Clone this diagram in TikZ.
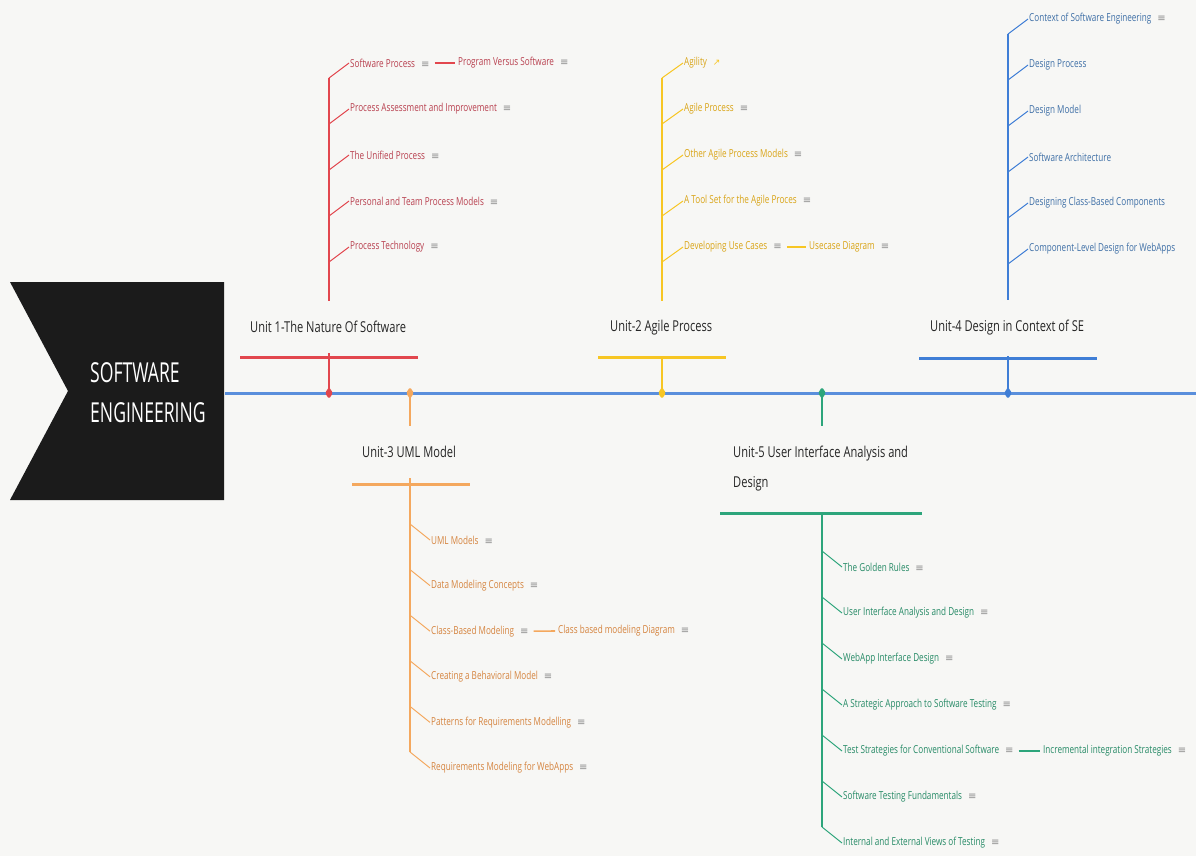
\documentclass[tikz,border=0pt]{standalone}
\usepackage{fontspec}
\setmainfont{Open Sans}[FakeStretch=0.74]
\newfontfamily\headfont{Open Sans}[FakeStretch=0.64]
\newfontfamily\symfont{DejaVu Sans}
\usetikzlibrary{shapes.geometric}
\definecolor{bgc}{HTML}{F7F7F5}
\definecolor{spinec}{HTML}{5A8FDC}
\definecolor{redline}{HTML}{E2474E}
\definecolor{redtext}{HTML}{B8404F}
\definecolor{yelline}{HTML}{F7C623}
\definecolor{yeltext}{HTML}{D9A416}
\definecolor{bluline}{HTML}{3F7ED6}
\definecolor{blutext}{HTML}{3E6FA6}
\definecolor{oraline}{HTML}{F4A85E}
\definecolor{oratext}{HTML}{D5843F}
\definecolor{greline}{HTML}{2DA57B}
\definecolor{gretext}{HTML}{268A66}
\definecolor{ttlc}{HTML}{262626}
\definecolor{headc}{HTML}{1B1B1B}
\definecolor{icc}{HTML}{8C8C8C}
\newcommand{\noteic}{\hspace{6pt}{\symfont\fontsize{10}{10}\selectfont\textcolor{icc}{≡}}}
\newcommand{\linkic}{\hspace{6pt}{\symfont\fontsize{9}{9}\selectfont\textcolor{yelline}{↗}}}
\begin{document}
\begin{tikzpicture}[x=1pt,y=-1pt,
  leaf/.style={anchor=west, inner sep=1pt, font=\fontsize{11}{12}\selectfont, text=#1},
  unittitle/.style={anchor=west, inner xsep=5pt, inner ysep=20pt, fill=bgc, font=\fontsize{15}{30}\selectfont, text=ttlc, align=left},
  barline/.style={line width=3pt, draw=#1},
  stem/.style={line width=1.5pt, draw=#1},
  twig/.style={line width=1pt, draw=#1},
  subline/.style={line width=1.6pt, draw=#1, shorten <=4pt, shorten >=2pt},
  dot/.style={diamond, inner sep=0pt, minimum width=8pt, minimum height=12pt, rounded corners=1.5pt, fill=#1}]
\useasboundingbox[fill=bgc] (0,0) rectangle (1196,856);

% head
\fill[headc] (10,282) -- (224,282) -- (224,500) -- (10,500) -- (68,391) -- cycle;
\node[anchor=west, align=left, text=white, inner sep=0pt, font=\headfont\fontsize{27.5}{40}\selectfont] (head) at (90,393) {SOFTWARE\\ENGINEERING};
\coordinate (headr) at (225,393);
\coordinate (spineend) at (1196,393);
\draw[line width=3pt, draw=spinec] (headr) -- (spineend);

% anchor points on spine
\coordinate (p1) at (329,393);
\coordinate (p2) at (662,393);
\coordinate (p3) at (410,393);
\coordinate (p4) at (1008,393);
\coordinate (p5) at (822,393);

% ---------- Unit 1 ----------
\coordinate (b1) at (329,357);
\coordinate (t1) at (329,78);
\draw[stem=redline] (p1) -- (b1) -- (t1);
\node[unittitle] (h1) at (245,327) {Unit 1-The Nature Of Software};
\draw[barline=redline] (240,357) -- (418,357);
\foreach \t [count=\i] in {Software Process\noteic, Process Assessment and Improvement\noteic, The Unified Process\noteic, Personal and Team Process Models\noteic, Process Technology\noteic}{
  \node[leaf=redtext] (u1c\i) at (349,{63+46*(\i-1)}) {\t};
  \draw[twig=redline] (329,{63+46*(\i-1)+15}) -- (u1c\i.west);
}
\node[leaf=redtext] (u1s1) at (457,63) {Program Versus Software\noteic};
\draw[subline=redline] (u1c1.east) -- (u1s1.west);

% ---------- Unit 2 ----------
\coordinate (b2) at (662,357);
\coordinate (t2) at (662,78);
\draw[stem=yelline] (p2) -- (b2) -- (t2);
\node[unittitle] (h2) at (605,328) {Unit-2 Agile Process};
\draw[barline=yelline] (598,357) -- (726,357);
\foreach \t [count=\i] in {Agility\linkic, Agile Process\noteic, Other Agile Process Models\noteic, A Tool Set for the Agile Proces\noteic, Developing Use Cases\noteic}{
  \node[leaf=yeltext] (u2c\i) at (683,{63+46*(\i-1)}) {\t};
  \draw[twig=yelline] (662,{63+46*(\i-1)+15}) -- (u2c\i.west);
}
\node[leaf=yeltext] (u2s1) at (808,247) {Usecase Diagram\noteic};
\draw[subline=yelline] (u2c5.east) -- (u2s1.west);

% ---------- Unit 4 ----------
\coordinate (b4) at (1008,358);
\coordinate (t4) at (1008,34);
\draw[stem=bluline] (p4) -- (b4) -- (t4);
\node[unittitle] (h4) at (925,328) {Unit-4 Design in Context of SE};
\draw[barline=bluline] (919,358) -- (1097,358);
\foreach \t [count=\i] in {Context of Software Engineering\noteic, Design Process, Design Model, Software Architecture, Designing Class-Based Components, Component-Level Design for WebApps}{
  \node[leaf=blutext] (u4c\i) at (1028,{19+46*(\i-1)}) {\t};
  \draw[twig=bluline] (1008,{19+46*(\i-1)+15}) -- (u4c\i.west);
}

% ---------- Unit 3 ----------
\coordinate (b3) at (410,484);
\coordinate (t3) at (410,752);
\draw[stem=oraline] (p3) -- (b3) -- (t3);
\node[unittitle] (h3) at (357,452) {Unit-3 UML Model};
\draw[barline=oraline] (352,484) -- (470,484);
\foreach \t [count=\i] in {UML Models\noteic, Data Modeling Concepts\noteic, Class-Based Modeling\noteic, Creating a Behavioral Model\noteic, Patterns for Requirements Modelling\noteic, Requirements Modeling for WebApps\noteic}{
  \node[leaf=oratext] (u3c\i) at (430,{540+45.6*(\i-1)}) {\t};
  \draw[twig=oraline] (410,{540+45.6*(\i-1)-16}) -- (u3c\i.west);
}
\node[leaf=oratext] (u3s1) at (557,631) {Class based modeling Diagram\noteic};
\draw[subline=oraline] (u3c3.east) -- (u3s1.west);

% ---------- Unit 5 ----------
\coordinate (b5) at (822,513);
\coordinate (t5) at (822,827);
\draw[stem=greline] (p5) -- (b5) -- (t5);
\node[unittitle] (h5) at (728,469) {Unit-5 User Interface Analysis and\\Design};
\draw[barline=greline] (720,513) -- (922,513);
\foreach \t [count=\i] in {The Golden Rules\noteic, User Interface Analysis and Design\noteic, WebApp Interface Design\noteic, A Strategic Approach to Software Testing\noteic, Test Strategies for Conventional Software\noteic, Software Testing Fundamentals\noteic, Internal and External Views of Testing\noteic}{
  \node[leaf=gretext] (u5c\i) at (842,{567+46*(\i-1)}) {\t};
  \draw[twig=greline] (822,{567+46*(\i-1)-16}) -- (u5c\i.west);
}
\node[leaf=gretext] (u5s1) at (1042,751) {Incremental integration Strategies\noteic};
\draw[subline=greline] (u5c5.east) -- (u5s1.west);

% dots on spine
\node[dot=redline] (d1) at (p1) {};
\node[dot=yelline] (d2) at (p2) {};
\node[dot=oraline] (d3) at (p3) {};
\node[dot=bluline] (d4) at (p4) {};
\node[dot=greline] (d5) at (p5) {};
\end{tikzpicture}
\end{document}
